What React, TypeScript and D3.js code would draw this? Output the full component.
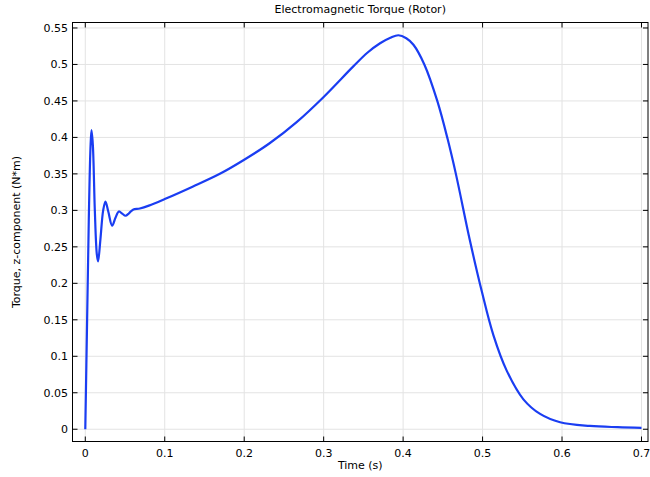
import React from "react";
import * as d3 from "d3";

const timeValues = [
  0, 0.0023, 0.0044, 0.0065, 0.0078, 0.0095, 0.012, 0.0145, 0.0161, 0.019,
  0.0225, 0.0254, 0.029, 0.0338, 0.038, 0.0422, 0.0465, 0.0506, 0.055, 0.06,
  0.0686, 0.08, 0.1, 0.135, 0.17, 0.2, 0.232, 0.266, 0.3, 0.337, 0.355,
  0.371, 0.384, 0.394, 0.404, 0.413, 0.4267, 0.443, 0.4562, 0.4666, 0.484,
  0.499, 0.5136, 0.5305, 0.5514, 0.5724, 0.5976, 0.635, 0.67, 0.7,
];
const torqueValues = [
  0, 0.15, 0.287, 0.385, 0.41, 0.39, 0.3, 0.24, 0.23, 0.26,
  0.3, 0.312, 0.298, 0.279, 0.29, 0.2985, 0.2955, 0.2926, 0.296, 0.301,
  0.3026, 0.3065, 0.3155, 0.3325, 0.3505, 0.3694, 0.392, 0.421, 0.4555, 0.497, 0.516,
  0.529, 0.5365, 0.54, 0.536, 0.527, 0.5, 0.45, 0.397, 0.349, 0.259,
  0.189, 0.129, 0.08, 0.041, 0.021, 0.0096, 0.0045, 0.0028, 0.002,
];
const xTicks = [0, 0.1, 0.2, 0.3, 0.4, 0.5, 0.6, 0.7];
const yTicks = [0, 0.05, 0.1, 0.15, 0.2, 0.25, 0.3, 0.35, 0.4, 0.45, 0.5, 0.55];

const W = 650, H = 477;
const L = 72.5, R = 648, T = 22.5, B = 441.5;
const font = "DejaVu Sans, sans-serif";

export default function App() {
  const x = d3.scaleLinear().domain([-0.0161, 0.7082]).range([L, R]);
  const y = d3.scaleLinear().domain([-0.0168, 0.5575]).range([B, T]);
  const pts: [number, number][] = timeValues.map((t, i) => [t, torqueValues[i]]);
  const line = d3
    .line<[number, number]>()
    .x((d) => x(d[0]))
    .y((d) => y(d[1]))
    .curve(d3.curveCatmullRom.alpha(0.5));
  const fmt = (v: number) => String(+v.toFixed(2));
  const tick = 5;
  return (
    <svg width={W} height={H} style={{ position: "absolute", left: 0, top: 0 }}>
      <rect width={W} height={H} fill="#fff" />
      <g stroke="#e3e3e3" strokeWidth={1}>
        {xTicks.map((t) => (
          <line key={"gx" + t} x1={x(t)} x2={x(t)} y1={T} y2={B} />
        ))}
        {yTicks.map((t) => (
          <line key={"gy" + t} x1={L} x2={R} y1={y(t)} y2={y(t)} />
        ))}
      </g>
      <path d={line(pts) || ""} fill="none" stroke="#1a3df2" strokeWidth={2.2} strokeLinejoin="round" />
      <rect x={L} y={T} width={R - L} height={B - T} fill="none" stroke="#000" strokeWidth={1} />
      <g stroke="#000" strokeWidth={1}>
        {xTicks.map((t) => (
          <g key={"tx" + t}>
            <line x1={x(t)} x2={x(t)} y1={B} y2={B - tick} />
            <line x1={x(t)} x2={x(t)} y1={T} y2={T + tick} />
          </g>
        ))}
        {yTicks.map((t) => (
          <g key={"ty" + t}>
            <line x1={L} x2={L + tick} y1={y(t)} y2={y(t)} />
            <line x1={R} x2={R - tick} y1={y(t)} y2={y(t)} />
          </g>
        ))}
      </g>
      <g fontFamily={font} fontSize={11} fill="#000">
        {xTicks.map((t) => (
          <text key={"lx" + t} x={x(t)} y={457} textAnchor="middle">
            {fmt(t)}
          </text>
        ))}
        {yTicks.map((t) => (
          <text key={"ly" + t} x={68} y={y(t) + 4} textAnchor="end">
            {fmt(t)}
          </text>
        ))}
        <text x={(L + R) / 2} y={13} textAnchor="middle">
          Electromagnetic Torque (Rotor)
        </text>
        <text x={(L + R) / 2} y={469} textAnchor="middle">
          Time (s)
        </text>
        <text
          transform={`translate(20,${(T + B) / 2}) rotate(-90)`}
          textAnchor="middle"
        >
          Torque, z-component (N*m)
        </text>
      </g>
    </svg>
  );
}
